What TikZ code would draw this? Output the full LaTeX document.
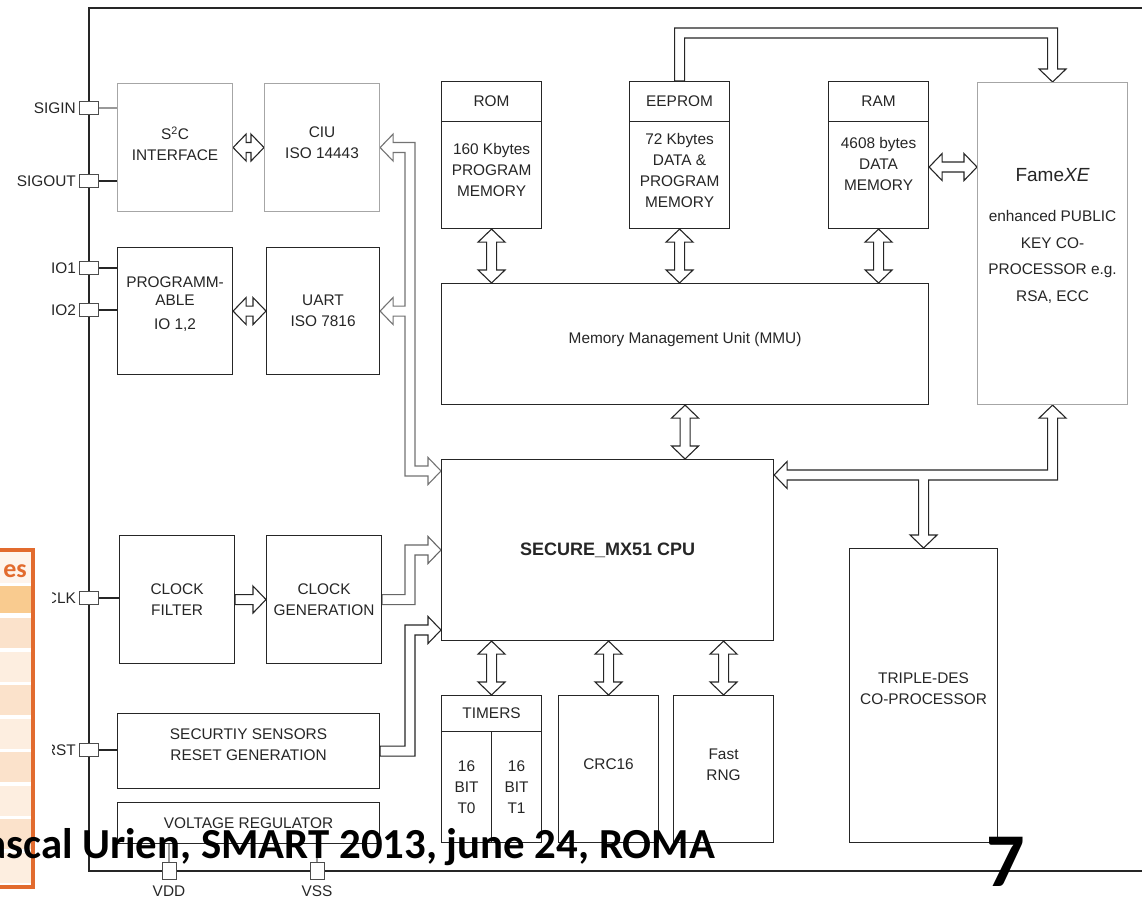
\documentclass[tikz,border=0pt]{standalone}
\usepackage{fontspec}
\setmainfont{Liberation Sans}
\newfontfamily\slidefont{Carlito}
\usetikzlibrary{calc,backgrounds,positioning}

\definecolor{tblorange}{HTML}{E26B2E}
\definecolor{tblpeach}{HTML}{F9CB8F}
\definecolor{tblrowa}{HTML}{FBE2CB}
\definecolor{tblrowb}{HTML}{FDEEE0}
\definecolor{tblpale}{HTML}{FEF4EC}

\newcommand{\txt}{\fontsize{15.4}{21}\selectfont}

% hollow bus arrows (y axis points down): shaft 10, head 27 wide, 13 long
\newcommand{\hollowV}[3][]{% double, #2 top tip, #3 bottom tip
  \draw[hollow,#1] (#2) -- ++(13.5,13) -- ++(-8.5,0) -- ($(#3)+(5,-13)$) -- ++(8.5,0) -- (#3)
    -- ++(-13.5,-13) -- ++(8.5,0) -- ($(#2)+(-5,13)$) -- ++(-8.5,0) -- cycle;}
\newcommand{\hollowH}[3][]{% double, #2 left tip, #3 right tip
  \draw[hollow,#1] (#2) -- ++(13,-13.5) -- ++(0,8.5) -- ($(#3)+(-13,-5)$) -- ++(0,-8.5) -- (#3)
    -- ++(-13,13.5) -- ++(0,-8.5) -- ($(#2)+(13,5)$) -- ++(0,8.5) -- cycle;}
\newcommand{\hollowHs}[3][]{% single, from #2 to right tip #3
  \draw[hollow,#1] ($(#2)+(0,-5)$) -- ($(#3)+(-13,-5)$) -- ++(0,-8.5) -- (#3)
    -- ++(-13,13.5) -- ++(0,-8.5) -- ($(#2)+(0,5)$) -- cycle;}
\newcommand{\elbow}[3][]{% single, from box #2 right, up the bus, to tip #3
  \draw[hollow,#1] ($(#2)+(0,-5)$) -- ($(lbus |- #2)+(-5,-5)$) -- ($(lbus |- #3)+(-5,-5)$)
    -- ($(#3)+(-13,-5)$) -- ++(0,-8.5) -- (#3) -- ++(-13,13.5) -- ++(0,-8.5)
    -- ($(lbus |- #3)+(5,5)$) -- ($(lbus |- #2)+(5,5)$) -- ($(#2)+(0,5)$) -- cycle;}

\tikzset{
  blk/.style={draw=black!85, line width=1.1pt, fill=white, inner sep=0pt, anchor=north west, align=center, font=\txt, text=black!85},
  gblk/.style={blk, draw=black!35},
  txtn/.style={inner sep=0pt, align=center, font=\txt, text=black!85},
  pin/.style={draw=black!70, line width=0.9pt, fill=white, minimum width=19, minimum height=13, inner sep=0pt},
  vpin/.style={pin, minimum width=14, minimum height=17},
  pinlbl/.style={font=\txt, text=black!85, inner sep=1pt},
  pinln/.style={line width=1.1pt, black!85},
  hollow/.style={draw=black!85, fill=white, line width=1.1pt, line join=miter},
}

\begin{document}
\begin{tikzpicture}[x=1pt,y=-1pt]
  \useasboundingbox (0,0) rectangle (1142,896);
  \clip (0,0) rectangle (1142,896);

  % chip outline
  \draw[line width=1.2pt, black!85] (89,8) rectangle (1170,871);

  % interfaces
  \node[gblk, minimum width=115, minimum height=128] (s2c) at (117,83) {};
  \node[txtn] (s2ct) at ([yshift=4pt]s2c.center) {S\textsuperscript{2}C\\INTERFACE};
  \node[gblk, minimum width=115, minimum height=128] (ciu) at (264,83) {};
  \node[txtn] (ciut) at ([yshift=5pt]ciu.center) {CIU\\ISO 14443};
  \node[blk, minimum width=115, minimum height=127] (prog) at (117,247) {};
  \node[txtn] (progt) at ([yshift=7pt]prog.center) {PROGRAMM-\\[-3pt]ABLE\\[3pt]IO 1,2};
  \node[blk, minimum width=113, minimum height=127] (uart) at (266,247) {UART\\ISO 7816};
  \node[blk, minimum width=115, minimum height=128] (clkf) at (119,535) {CLOCK\\FILTER};
  \node[blk, minimum width=115, minimum height=128] (clkg) at (266,535) {CLOCK\\GENERATION};
  \node[blk, minimum width=262, minimum height=75] (sec) at (117,713) {};
  \node[txtn] (sect) at ([yshift=6pt]sec.center) {SECURTIY SENSORS\\RESET GENERATION};
  \node[blk, minimum width=262, minimum height=41] (volt) at (117,802) {VOLTAGE REGULATOR};

  % memories
  \node[blk, minimum width=100, minimum height=40] (romh) at (441,81) {ROM};
  \node[blk, minimum width=100, minimum height=107] (romb) at (441,121) {};
  \node[txtn] (romt) at ([yshift=5pt]romb.center) {160 Kbytes\\PROGRAM\\MEMORY};
  \node[blk, minimum width=100, minimum height=40] (eeph) at (629,81) {EEPROM};
  \node[blk, minimum width=100, minimum height=107] (eepb) at (629,121) {};
  \node[txtn] (eept) at ([yshift=5pt]eepb.center) {72 Kbytes\\DATA \&\\PROGRAM\\MEMORY};
  \node[blk, minimum width=100, minimum height=40] (ramh) at (828,81) {RAM};
  \node[blk, minimum width=100, minimum height=107] (ramb) at (828,121) {};
  \node[txtn] (ramt) at ([yshift=11pt]ramb.center) {4608 bytes\\DATA\\MEMORY};
  \node[gblk, minimum width=150, minimum height=322] (fame) at (977,82) {};
  \node[txtn, font=\fontsize{15.4}{26.5}\selectfont] (famet) at ([yshift=8pt]fame.center)
    {{\fontsize{19}{22}\selectfont Fame\textit{XE}}\\[14pt]enhanced PUBLIC\\KEY CO-\\PROCESSOR e.g.\\RSA, ECC};
  \node[blk, minimum width=487, minimum height=121] (mmu) at (441,283) {};
  \node[txtn] (mmut) at ([yshift=5pt]mmu.center) {Memory Management Unit (MMU)};

  % cpu and peripherals
  \node[blk, minimum width=332, minimum height=181, font=\bfseries\fontsize{18}{22}\selectfont] (cpu) at (441,459) {SECURE\_MX51 CPU};
  \node[blk, minimum width=100, minimum height=36] (timh) at (441,695) {TIMERS};
  \node[blk, minimum width=50, minimum height=111] (tzero) at (441,731) {16\\BIT\\T0};
  \node[blk, minimum width=50, minimum height=111] (tone) at (491,731) {16\\BIT\\T1};
  \node[blk, minimum width=100, minimum height=147] (crc) at (558,695) {};
  \node[txtn] (crct) at ([yshift=5pt]crc.center) {CRC16};
  \node[blk, minimum width=100, minimum height=147] (rng) at (673,695) {};
  \node[txtn] (rngt) at ([yshift=4pt]rng.center) {Fast\\RNG};
  \node[blk, minimum width=148, minimum height=294] (tdes) at (849,548) {};
  \node[txtn] (tdest) at ([yshift=7pt]tdes.center) {TRIPLE-DES\\CO-PROCESSOR};

  \coordinate (lbus) at (410,0);
  \coordinate (etop) at (0,33);
  \coordinate (cpuL) at (cpu.west |- 0,471);
  \coordinate (cpuC) at (cpu.west |- 0,550);
  \coordinate (cpuD) at (cpu.west |- 0,630);
  \coordinate (cpuR) at (cpu.east |- 0,475);
  \coordinate (ramR) at ([yshift=8pt]ramb.east);
  \coordinate (fameL) at (ramR -| fame.west);

  \begin{scope}[on background layer]
    % memory buses
    \hollowV{romb.south}{romb.south |- mmu.north}
    \hollowV{eepb.south}{eepb.south |- mmu.north}
    \hollowV{ramb.south}{ramb.south |- mmu.north}
    \hollowV{mmu.south}{mmu.south |- cpu.north}
    \hollowH{ramR}{fameL}
    \draw[hollow] ($(eeph.north)+(-5,0)$) -- ($(eeph.north |- etop)+(-5,-5)$) -- ($(fame.north |- etop)+(5,-5)$)
      -- ($(fame.north)+(5,-13)$) -- ++(8.5,0) -- (fame.north) -- ++(-13.5,-13) -- ++(8.5,0)
      -- ($(fame.north |- etop)+(-5,5)$) -- ($(eeph.north |- etop)+(5,5)$) -- ($(eeph.north)+(5,0)$) -- cycle;
    % crypto bus
    \draw[hollow] (fame.south) -- ++(13.5,13) -- ++(-8.5,0) -- ($(fame.south |- cpuR)+(5,5)$)
      -- ($(tdes.north |- cpuR)+(5,5)$) -- ($(tdes.north)+(5,-13)$) -- ++(8.5,0) -- (tdes.north)
      -- ++(-13.5,-13) -- ++(8.5,0) -- ($(tdes.north |- cpuR)+(-5,5)$) -- ($(cpuR)+(13,5)$)
      -- ++(0,8.5) -- (cpuR) -- ++(13,-13.5) -- ++(0,8.5) -- ($(fame.south |- cpuR)+(-5,-5)$)
      -- ($(fame.south)+(-5,13)$) -- ++(-8.5,0) -- cycle;
    % contactless / contact bus
    \draw[hollow, draw=black!55] (ciu.east) -- ++(13,-13.5) -- ++(0,8.5) -- ($(lbus |- ciu.east)+(5,-5)$)
      -- ($(lbus |- cpuL)+(5,-5)$) -- ($(cpuL)+(-13,-5)$) -- ++(0,-8.5) -- (cpuL) -- ++(-13,13.5)
      -- ++(0,-8.5) -- ($(lbus |- cpuL)+(-5,5)$) -- ($(lbus |- uart.east)+(-5,5)$) -- ($(uart.east)+(13,5)$)
      -- ++(0,8.5) -- (uart.east) -- ++(13,-13.5) -- ++(0,8.5) -- ($(lbus |- uart.east)+(-5,-5)$)
      -- ($(lbus |- ciu.east)+(-5,5)$) -- ($(ciu.east)+(13,5)$) -- ++(0,8.5) -- cycle;
    \hollowH{s2c.east}{ciu.west}
    \hollowH{prog.east}{uart.west}
    % clock and reset
    \hollowHs{clkf.east}{clkg.west}
    \elbow[draw=black!60]{clkg.east}{cpuC}
    \elbow{sec.east}{cpuD}
    % peripherals
    \hollowV{timh.north |- cpu.south}{timh.north}
    \hollowV{crc.north |- cpu.south}{crc.north}
    \hollowV{rng.north |- cpu.south}{rng.north}
  \end{scope}

  % pins
  \node[pin] (sigin) at (89,108) {};
  \node[pin] (sigout) at (89,181) {};
  \node[pin] (ioone) at (89,268) {};
  \node[pin] (iotwo) at (89,310) {};
  \node[pin] (clk) at (89,598) {};
  \node[pin] (rst) at (89,750) {};
  \node[vpin] (vdd) at (169,871) {};
  \node[vpin] (vss) at (317,871) {};
  \node[pinlbl, left=2pt of sigin] (siginl) {SIGIN};
  \node[pinlbl, left=2pt of sigout] (sigoutl) {SIGOUT};
  \node[pinlbl, left=2pt of ioone] (ioonel) {IO1};
  \node[pinlbl, left=2pt of iotwo] (iotwol) {IO2};
  \node[pinlbl, left=2pt of clk] (clkl) {CLK};
  \node[pinlbl, left=2pt of rst] (rstl) {RST};
  \node[pinlbl, below=5pt of vdd] (vddl) {VDD};
  \node[pinlbl, below=5pt of vss] (vssl) {VSS};
  \draw[pinln, black!40] (sigin.east) -- (sigin.east -| s2c.west);
  \draw[pinln] (sigout.east) -- (sigout.east -| s2c.west);
  \draw[pinln] (ioone.east) -- (ioone.east -| prog.west);
  \draw[pinln] (iotwo.east) -- (iotwo.east -| prog.west);
  \draw[pinln] (clk.east) -- (clk.east -| clkf.west);
  \draw[pinln] (rst.east) -- (rst.east -| sec.west);
  \draw[pinln, black!40] (vdd.north) -- (vdd.north |- volt.south);
  \draw[pinln, black!40] (vss.north) -- (vss.north |- volt.south);

  % slide overlay
  \fill[white] (-5,545) rectangle (52,896);
  \fill[tblpale] (-5,552) rectangle (31,583);
  \fill[tblpeach] (-5,586) rectangle (31,613);
  \foreach \i/\c in {0/tblrowa,1/tblrowb,2/tblrowa,3/tblrowb,4/tblrowa,5/tblrowb,6/tblrowa,7/tblrowb}
    \fill[\c] (-5,618+33.5*\i) rectangle (31,648+33.5*\i);
  \draw[tblorange, line width=4pt] (-5,550) rectangle (33,887);
  \node[anchor=base east, inner sep=0, text=tblorange, font=\slidefont\bfseries\fontsize{26}{30}\selectfont] (tblhd) at (27,577) {es};
  \node[anchor=base west, inner sep=0, font=\slidefont\bfseries\fontsize{42.8}{50}\selectfont] (foot) at (-37,858) {Pascal Urien, SMART 2013, june 24, ROMA};
  \node[anchor=base west, inner sep=0, font=\slidefont\bfseries\fontsize{76}{80}\selectfont] (pgno) at (986,886) {7};
\end{tikzpicture}
\end{document}
